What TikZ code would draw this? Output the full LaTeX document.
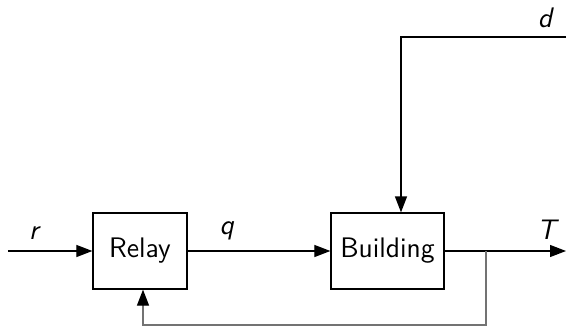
\documentclass[tikz,border=0pt]{standalone}
\usetikzlibrary{arrows.meta}
\begin{document}
\begin{tikzpicture}[x=0.4pt,y=-0.4pt,
  font=\sffamily\fontsize{11.3}{13}\selectfont,
  block/.style={draw,line width=0.5pt,minimum width=37.6pt,minimum height=30.4pt,inner sep=0pt},
  sig/.style={line width=0.5pt,-{Triangle[length=6.4pt,width=4.8pt,color=black]}},
  fb/.style={sig,draw=black!55},
  lbl/.style={inner sep=0pt}]
  \useasboundingbox (0,0) rectangle (575,327);
  % blocks
  \node[block] (relay) at (140,251) {Relay};
  \node[block,minimum width=45.2pt] (bldg) at (387.5,251) {Building};
  % free ends and corners
  \coordinate (in) at (8,251);
  \coordinate (out) at (566,251);
  \coordinate (tap) at (486,251);
  \coordinate (fbR) at (486,325);
  \coordinate (fbL) at (143,325);
  \coordinate (dIn) at (566,37);
  \coordinate (dC) at (401,37);
  % signals
  \draw[sig] (in) -- (relay);
  \draw[sig] (relay) -- (bldg);
  \draw[sig] (bldg) -- (out);
  \draw[sig] (dIn) -- (dC) -- (dC |- bldg.north);
  \draw[fb] (tap) -- (fbR) -- (fbL) -- (fbL |- relay.south);
  % labels
  \node[lbl] (r) at (35,233) {\textsl{r}};
  \node[lbl] (q) at (227,231) {\textsl{q}};
  \node[lbl] (T) at (548,230) {\textsl{T}};
  \node[lbl] (d) at (546,18) {\textsl{d}};
\end{tikzpicture}
\end{document}
